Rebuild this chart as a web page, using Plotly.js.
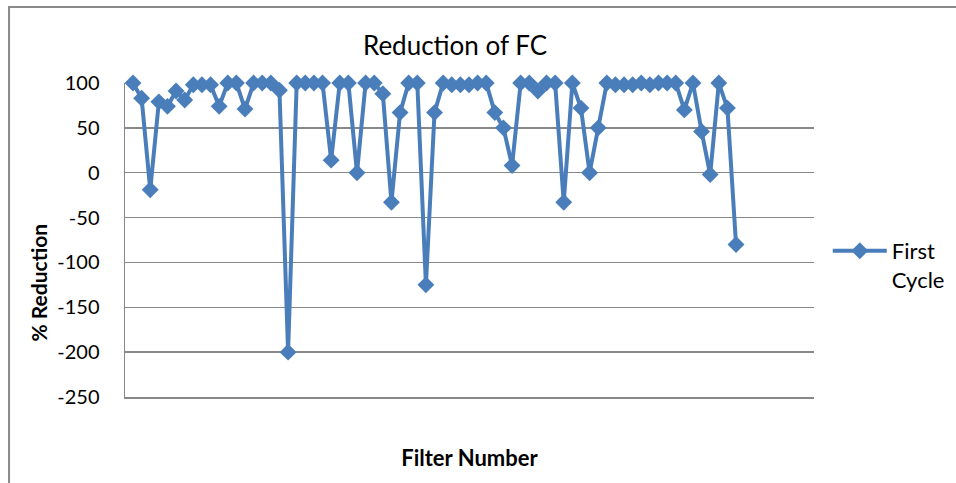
<!DOCTYPE html>
<html>
<head>
<meta charset="utf-8">
<script src="https://cdn.plot.ly/plotly-3.0.1.min.js"></script>
<style>html,body{margin:0;padding:0;background:#fff;}#chart{width:956px;height:483px;}</style>
</head>
<body>
<div id="chart"></div>
<script>
const filterNumber = [];
for (let i = 1; i <= 71; i++) filterNumber.push(i);
const firstCycle = [
  100, 83, -19, 79, 74, 91, 81, 98, 98, 98,
  74, 100, 100, 71, 100, 100, 100, 92, -200, 100,
  100, 100, 100, 14, 100, 100, 0, 100, 100, 88,
  -33, 67, 100, 100, -125, 67, 100, 98, 98, 98,
  100, 100, 67, 50, 8, 100, 100, 91, 100, 100,
  -33, 100, 72, 0, 50, 100, 98, 98, 98, 100,
  98, 100, 100, 100, 70, 100, 46, -2, 100, 72,
  -80
];
const yTicks = [100, 50, 0, -50, -100, -150, -200, -250];
const seriesName = 'First<br>Cycle';

const font = 'Lato, "Open Sans", sans-serif';
const blue = '#4a7ebb';
const grid = '#888888';

const trace = {
  x: filterNumber,
  y: firstCycle,
  type: 'scatter',
  mode: 'lines+markers',
  name: seriesName,
  line: {color: blue, width: 4},
  marker: {symbol: 'diamond', size: 13, color: blue},
  cliponaxis: false
};

const layout = {
  width: 956, height: 483,
  margin: {l: 125, r: 142, t: 83, b: 86, autoexpand: false},
  paper_bgcolor: '#fff', plot_bgcolor: '#fff',
  font: {family: font, color: '#000', size: 20},
  title: {text: 'Reduction of FC', font: {family: font, size: 26, color: '#000'},
          x: 0.476, xanchor: 'center', y: 0.905, yanchor: 'middle'},
  xaxis: {range: [0.07, 80.05], showticklabels: false, showgrid: false, zeroline: false,
          showline: true, linecolor: grid, linewidth: 1.5, ticks: '',
          title: {text: '<b>Filter Number</b>', font: {family: font, size: 22}, standoff: 53}},
  yaxis: {range: [-250, 100], tickvals: yTicks, ticktext: yTicks.map(String),
          showgrid: true, gridcolor: grid, gridwidth: 1.5, zeroline: false,
          showline: true, linecolor: grid, linewidth: 1.5,
          ticks: 'outside', ticklen: 20, tickcolor: 'rgba(0,0,0,0)',
          tickfont: {family: font, size: 20},
          title: {text: ''}},
  showlegend: true,
  legend: {x: 1.02, y: 0.532, xanchor: 'left', yanchor: 'top', valign: 'top',
           font: {family: font, size: 22}, bgcolor: 'rgba(0,0,0,0)', itemwidth: 54},
  annotations: [
    {text: '<b>% Reduction</b>', xref: 'paper', yref: 'paper', x: -0.126, y: 0.365,
     textangle: -90, showarrow: false, font: {family: font, size: 21}, xanchor: 'center', yanchor: 'middle'}
  ],
  shapes: [
    {type: 'rect', xref: 'paper', yref: 'paper', x0: -0.1683, x1: 1.4, y0: -0.5, y1: 1.2420,
     line: {color: '#8a8a8a', width: 2}, fillcolor: 'rgba(0,0,0,0)', layer: 'below'}
  ]
};

Plotly.newPlot('chart', [trace], layout, {displayModeBar: false, staticPlot: true});
</script>
</body>
</html>
